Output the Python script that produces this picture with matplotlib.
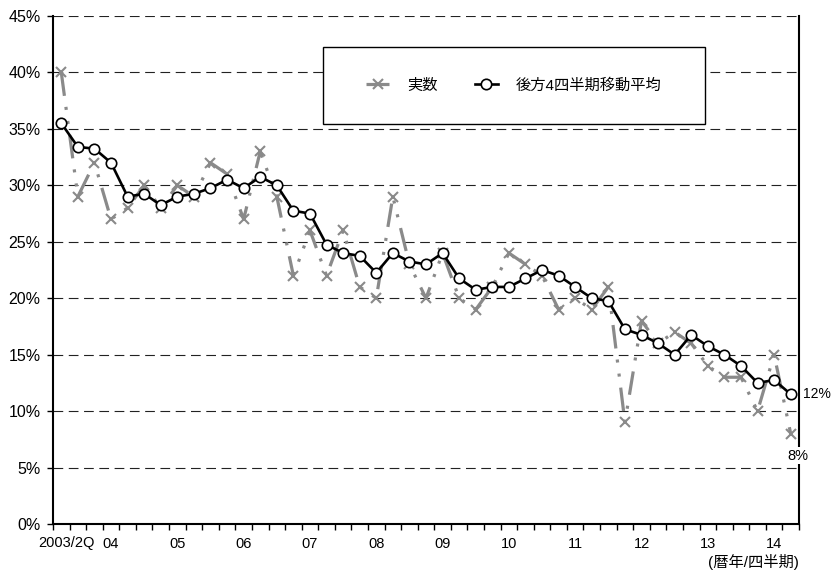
import matplotlib
matplotlib.use("Agg")
import matplotlib.pyplot as plt
import matplotlib.transforms as mtransforms
from matplotlib.patches import Rectangle
from matplotlib.ticker import MultipleLocator, FuncFormatter

plt.rcParams['font.family'] = ['Liberation Sans', 'Noto Sans CJK JP']
plt.rcParams['lines.scale_dashes'] = False

# 2003/2Q .. 2014/2Q (四半期)
first_quarter = 2
actual = [40, 29, 32, 27, 28, 30, 28, 30, 29, 32, 31, 27, 33, 29, 22, 26,
          22, 26, 21, 20, 29, 23, 20, 24, 20, 19, 21, 24, 23, 22, 19, 20,
          19, 21, 9, 18, 16, 17, 16, 14, 13, 13, 10, 15, 8]
moving_avg = [35.5, 33.4, 33.25, 32, 29, 29.25, 28.25, 29, 29.25, 29.75, 30.5,
              29.75, 30.75, 30, 27.75, 27.5, 24.75, 24, 23.75, 22.25, 24,
              23.25, 23, 24, 21.75, 20.75, 21, 21, 21.75, 22.5, 22, 21, 20,
              19.75, 17.25, 16.75, 16, 15, 16.75, 15.75, 15, 14, 12.5, 12.75,
              11.5]
year_labels = ['2003/2Q', '04', '05', '06', '07', '08', '09', '10', '11',
               '12', '13', '14']
legend_labels = ['実数', '後方4四半期移動平均']

x = list(range(len(actual)))
quarter = [(first_quarter - 1 + i) % 4 + 1 for i in x]
tick_pos = [0] + [i for i in x if quarter[i] == 1 and i > 0]

fig = plt.figure(figsize=(8.32, 5.74), dpi=100)
ax = fig.add_axes([53 / 832, 1 - 524 / 574, 746 / 832, 508 / 574])

gray = '#8a8a8a'
l1, = ax.plot(x, actual, color=gray, lw=2.3, marker='x', ms=7, mew=1.5,
              dashes=(17, 8, 2.2, 8, 2.2, 8), label=legend_labels[0], zorder=3)
l2, = ax.plot(x, moving_avg, color='black', lw=1.9, marker='o', ms=7.5,
              mfc='white', mec='black', mew=1.2, label=legend_labels[1], zorder=4)

ax.set_xlim(-0.5, len(actual) - 0.5)
ax.set_ylim(0, 45)
ax.yaxis.set_major_locator(MultipleLocator(5))
ax.yaxis.set_major_formatter(FuncFormatter(lambda v, p: f'{v:.0f}%'))
ax.grid(axis='y', color='#222222', lw=0.8, dashes=(7, 4))
ax.set_axisbelow(True)

ax.set_xticks(tick_pos)
ax.set_xticklabels(year_labels)
ax.set_xticks([i - 0.5 for i in x] + [len(x) - 0.5], minor=True)
ax.tick_params(axis='x', which='major', length=0, pad=9, labelsize=10.5)
ax.tick_params(axis='x', which='minor', length=4, width=1, direction='out')
ax.tick_params(axis='y', length=4, width=1, direction='out', pad=5, labelsize=11.5)

ax.spines['top'].set_visible(False)
for s in ['left', 'right', 'bottom']:
    ax.spines[s].set_linewidth(1.5)

# 先頭ラベルを少し右へ
lab0 = ax.get_xticklabels()[0]
lab0.set_transform(lab0.get_transform() +
                   mtransforms.ScaledTranslation(5.5 / 100, 0, fig.dpi_scale_trans))

# 凡例
ax.add_patch(Rectangle((0.362, 0.787), 0.512, 0.152, transform=ax.transAxes,
                       facecolor='white', edgecolor='black', lw=1.0, zorder=5))
ax.legend(handles=[l1, l2], loc='center', bbox_to_anchor=(0.618, 0.863),
          ncol=2, frameon=False, fontsize=11, handlelength=1.5,
          handletextpad=1.2, columnspacing=2.4).set_zorder(6)

# 末尾ラベル
ax.annotate(f'{moving_avg[-1]:.0f}%', xy=(x[-1], moving_avg[-1]), xytext=(8.5, 0),
            textcoords='offset points', va='center', ha='left', fontsize=10,
            bbox=dict(facecolor='white', edgecolor='none', pad=1),
            annotation_clip=False, zorder=7)
ax.annotate(f'{actual[-1]:.0f}%', xy=(x[-1], actual[-1]), xytext=(5, -16),
            textcoords='offset points', va='center', ha='center', fontsize=10.5,
            bbox=dict(facecolor='white', edgecolor='none', pad=1),
            annotation_clip=False, zorder=7)

fig.text(799 / 832, 1 - 562 / 574, '(暦年/四半期)', ha='right', va='center',
         fontsize=11)

fig.savefig('out.png', dpi=100)
